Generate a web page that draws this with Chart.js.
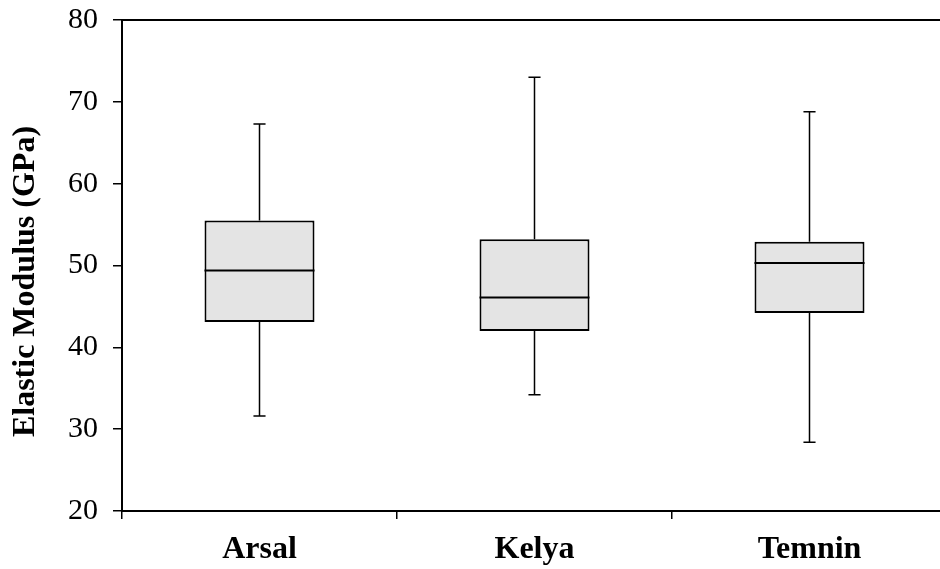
<!DOCTYPE html>
<html>
<head>
<meta charset="utf-8">
<script src="https://cdn.jsdelivr.net/npm/chart.js@4"></script>
<style>
  html, body { margin: 0; padding: 0; background: #fff; overflow: hidden; }
  #wrap { width: 947px; height: 569px; }
</style>
</head>
<body>
<div id="wrap"><canvas id="grafikModulus"></canvas></div>
<script>
// Box plot of elastic modulus per site
var categories = ['Arsal', 'Kelya', 'Temnin'];
var minVals = [31.6, 34.2, 28.4];
var q1Vals = [43.1, 42.0, 44.2];
var medianVals = [49.4, 46.1, 50.3];
var q3Vals = [55.5, 53.2, 52.9];
var maxVals = [67.3, 73.0, 68.8];
var yTicks = [20, 30, 40, 50, 60, 70, 80];

var serif = "'Liberation Serif', 'Times New Roman', serif";

// whiskers, caps and median line on top of the floating bars
var boxLines = {
    id: 'boxLines',
    afterDatasetsDraw: function (chart) {
        var ctx = chart.ctx;
        var y = chart.scales.y;
        var meta = chart.getDatasetMeta(0);
        ctx.save();
        ctx.strokeStyle = '#000';
        meta.data.forEach(function (bar, i) {
            var cx = bar.x;
            var half = bar.width / 2;
            var cap = bar.width * 0.055;

            ctx.lineWidth = 2;
            ctx.beginPath();
            ctx.moveTo(cx - half, y.getPixelForValue(medianVals[i]));
            ctx.lineTo(cx + half, y.getPixelForValue(medianVals[i]));
            ctx.stroke();

            ctx.lineWidth = 1.5;
            ctx.beginPath();
            ctx.moveTo(cx, y.getPixelForValue(q3Vals[i]));
            ctx.lineTo(cx, y.getPixelForValue(maxVals[i]));
            ctx.moveTo(cx - cap, y.getPixelForValue(maxVals[i]));
            ctx.lineTo(cx + cap, y.getPixelForValue(maxVals[i]));
            ctx.moveTo(cx, y.getPixelForValue(q1Vals[i]));
            ctx.lineTo(cx, y.getPixelForValue(minVals[i]));
            ctx.moveTo(cx - cap, y.getPixelForValue(minVals[i]));
            ctx.lineTo(cx + cap, y.getPixelForValue(minVals[i]));
            ctx.stroke();
        });
        ctx.restore();
    }
};

var boxes = categories.map(function (c, i) {
    return [q1Vals[i], q3Vals[i]];
});

var ctx = document.getElementById('grafikModulus').getContext('2d');
new Chart(ctx, {
    type: 'bar',
    data: {
        labels: categories,
        datasets: [{
            label: 'Elastic Modulus',
            data: boxes,
            backgroundColor: '#e4e4e4',
            borderColor: '#000',
            borderWidth: 2,
            borderSkipped: false,
            barPercentage: 0.4,
            categoryPercentage: 1
        }]
    },
    options: {
        responsive: true,
        maintainAspectRatio: false,
        animation: false,
        layout: {
            padding: { top: 20, right: 0, bottom: 0, left: 0 }
        },
        plugins: {
            legend: { display: false },
            tooltip: { enabled: false }
        },
        scales: {
            x: {
                type: 'category',
                position: 'bottom',
                afterFit: function (scale) {
                    scale.height = 58;
                },
                grid: {
                    display: true,
                    offset: true,
                    drawOnChartArea: false,
                    tickLength: 8,
                    color: '#000',
                    lineWidth: 1.5
                },
                border: { display: true, color: '#000', width: 2 },
                ticks: {
                    color: '#000',
                    padding: 12,
                    font: { family: serif, size: 32, weight: 'bold' }
                }
            },
            // plain frame line along the top
            x2: {
                type: 'category',
                position: 'top',
                labels: categories,
                afterFit: function (scale) {
                    scale.height = 0;
                },
                grid: { display: false },
                ticks: { display: false },
                border: { display: true, color: '#000', width: 2 }
            },
            y: {
                min: 20,
                max: 80,
                afterBuildTicks: function (scale) {
                    scale.ticks = yTicks.map(function (v) { return { value: v }; });
                },
                afterFit: function (scale) {
                    scale.width = 122;
                    scale.paddingTop = 0;
                    scale.paddingBottom = 0;
                },
                grid: {
                    display: true,
                    drawOnChartArea: false,
                    tickLength: 9,
                    color: '#000',
                    lineWidth: 1.5
                },
                border: { display: true, color: '#000', width: 2 },
                ticks: {
                    color: '#000',
                    padding: 15,
                    font: { family: serif, size: 30 }
                },
                title: {
                    display: true,
                    text: 'Elastic Modulus (GPa)\u00a0\u00a0\u00a0\u00a0',
                    color: '#000',
                    padding: { top: 7, bottom: 0 },
                    font: { family: serif, size: 32, weight: 'bold' }
                }
            }
        }
    },
    plugins: [boxLines]
});
</script>
</body>
</html>
